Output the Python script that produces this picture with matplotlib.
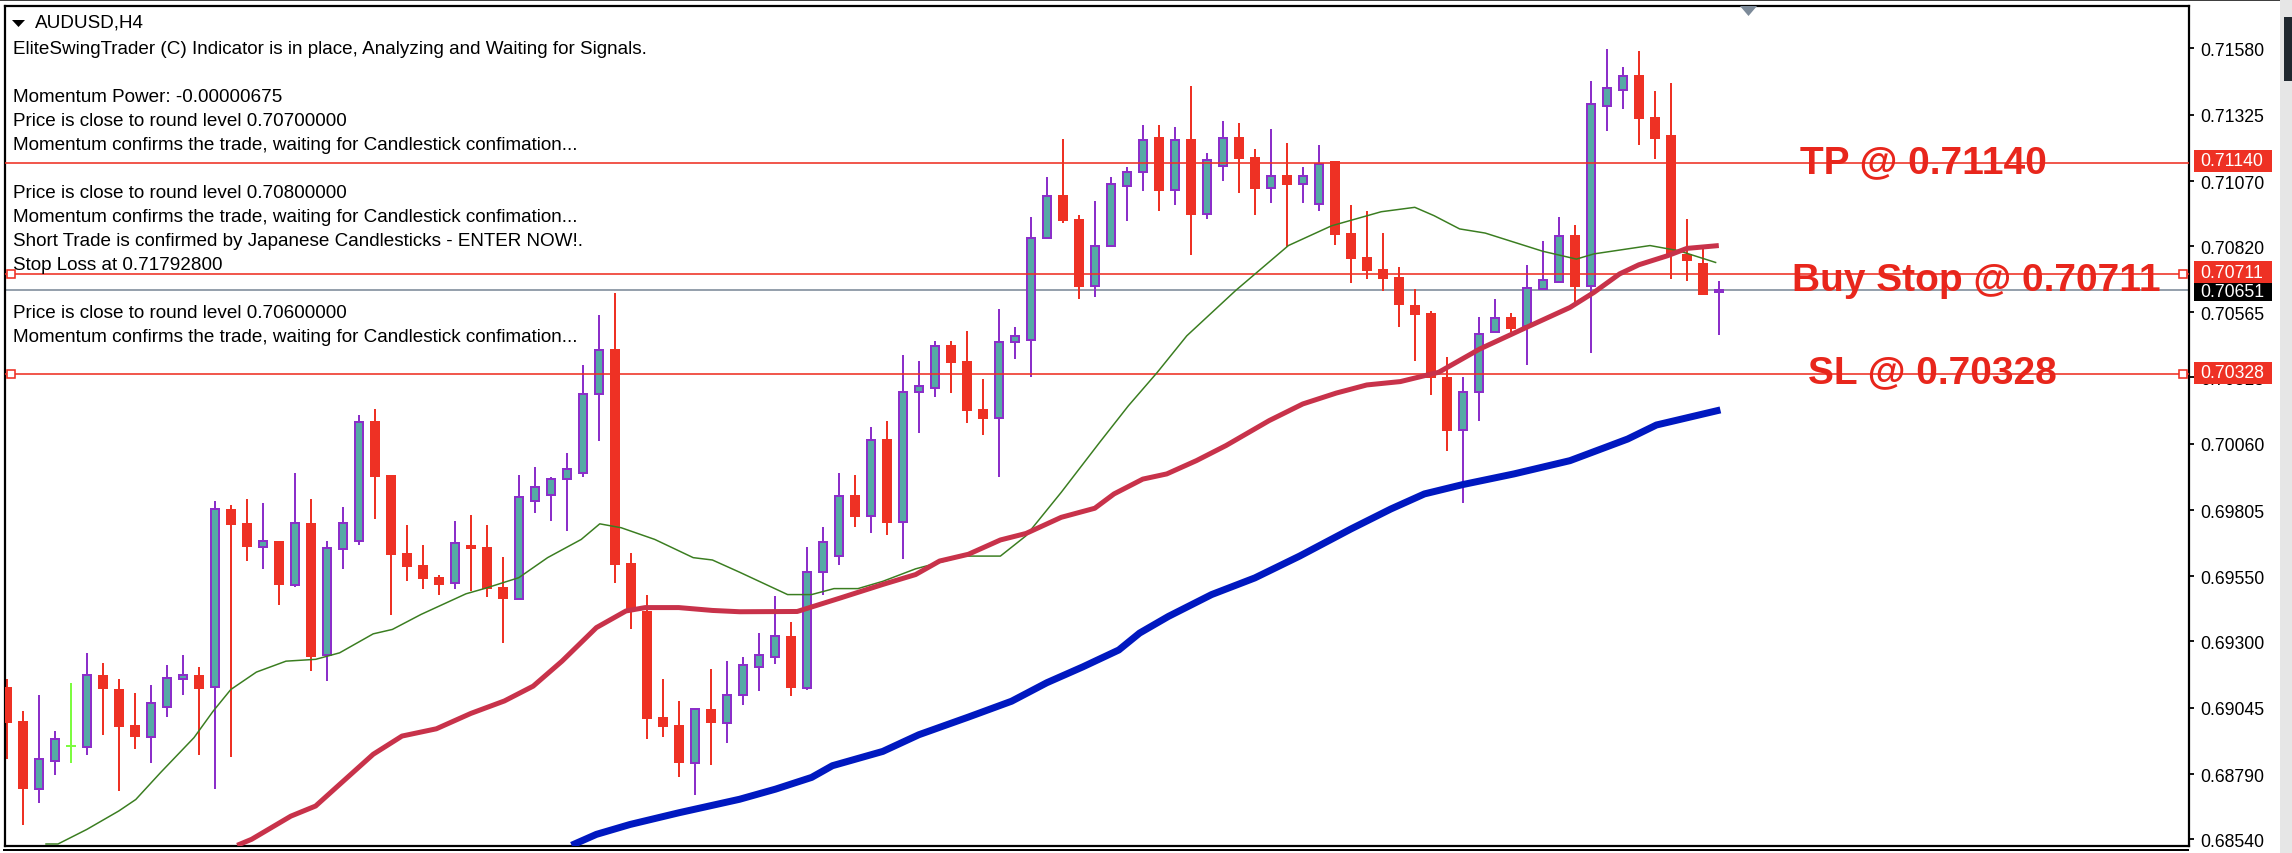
import matplotlib
matplotlib.use("Agg")
import matplotlib.pyplot as plt
from matplotlib.patches import Rectangle, Polygon
from matplotlib.ticker import FixedLocator, FixedFormatter

# ---- data: prices in points (1e-5)
opens = [69124,68994,68733,68841,68898,68895,69171,69117,68978,68933,69049,69155,69171,69126,69809,69755,69664,69686,69518,69755,
         69246,69656,69687,70147,69940,69640,69594,69547,69526,69670,69663,69509,69464,69841,69864,69925,69949,70250,70424,69601,
         69417,69009,68978,68834,69040,68987,69095,69203,69239,69321,69120,69565,69627,69862,69781,70077,69758,70258,70273,70438,
         70377,70192,70158,70450,70458,70850,71015,70923,70665,70819,71050,71104,71238,71034,71230,70942,71127,71238,71161,71042,
         71092,71057,70981,71146,70869,70777,70731,70700,70592,70561,70315,70112,70258,70488,70546,70514,70655,70681,70861,70665,
         71357,71419,71476,71315,71246,70790,70754,70645]
highs = [69155,69032,69094,68955,69140,69255,69217,69155,69101,69132,69209,69247,69201,69840,69824,69847,69832,69686,69947,69847,
         69686,69817,70170,70193,69940,69747,69670,69555,69763,69786,69747,69624,69940,69970,69932,70024,70363,70555,70640,69640,
         69478,69155,69071,69039,69194,69224,69240,69332,69476,69375,69662,69738,69947,69938,70123,70146,70400,70377,70454,70454,
         70492,70308,70577,70508,70931,71084,71230,70938,70992,71084,71123,71284,71284,71277,71435,71177,71300,71292,71192,71269,
         71215,71123,71207,71146,70977,70954,70869,70738,70654,70569,70392,70315,70546,70615,70561,70746,70838,70930,70900,71453,
         71577,71507,71569,71415,71446,70923,70809,70684]
lows = [68848,68594,68678,68786,68832,68863,68940,68725,68886,68832,69009,69094,68863,68732,68855,69609,69578,69440,69509,69186,
        69148,69578,69670,69770,69401,69532,69501,69478,69501,69494,69470,69294,69464,69794,69763,69724,69932,70070,69525,69347,
        68925,68932,68778,68709,68825,68909,69055,69109,69213,69089,69112,69478,69594,69738,69717,69710,69618,70102,70241,70256,
        70141,70095,69933,70386,70318,70850,70910,70618,70625,70819,70918,71033,70956,70979,70787,70925,71071,71025,70941,70987,
        70815,70987,70956,70825,70679,70695,70649,70510,70379,70249,70033,69833,70149,70488,70488,70364,70655,70681,70604,70410,
        71264,71348,71210,71156,70695,70687,70633,70479]
closes = [68986,68732,68846,68923,68898,69169,69117,68971,68932,69062,69160,69171,69117,69808,69747,69663,69685,69517,69754,69240,
          69661,69754,70145,69932,69632,69586,69540,69517,69677,69655,69501,69463,69854,69892,69923,69961,70252,70422,69594,69417,
          69001,68971,68832,69039,68986,69092,69208,69246,69319,69120,69566,69683,69860,69780,70076,69756,70260,70283,70437,70372,
          70187,70156,70452,70475,70852,71014,70918,70664,70822,71060,71106,71229,71033,71229,70941,71152,71237,71156,71041,71091,
          71056,71091,71137,70864,70772,70725,70695,70595,70556,70313,70110,70260,70483,70545,70502,70660,70691,70860,70664,71368,
          71429,71475,71310,71233,70790,70764,70633,70651]

green_bar = [2.45,3.2,5.0,7.0,8.06,9.6,11.7,12.9,14.0,15.6,17.45,19.3,20.8,22.9,24.1,25.9,28.7,29.9,32.0,33.8,35.9,37.06,38.4,40.5,
             42.9,44.1,45.8,48.8,50.3,51.7,53.2,54.75,56.8,59.8,62.1,63.7,65.9,68.3,70.1,71.9,73.75,76.8,80.1,82.8,85.9,88.0,89.2,
             90.8,92.4,96.0,98.1,99.2,102.7,104.5,106.8]
green_val = [68521,68521,68577,68648,68692,68795,68930,69032,69115,69182,69224,69231,69256,69329,69346,69404,69483,69504,69545,69622,69692,69752,69737,69692,
             69622,69613,69566,69480,69480,69503,69503,69531,69579,69628,69628,69706,69873,70065,70206,70334,70475,70649,70822,70898,70952,70969,70937,
             70886,70870,70800,70770,70790,70822,70802,70757]
red_ma_bar = [14.4,15.3,17.75,19.3,20.8,22.9,24.7,26.85,29.0,31.1,32.9,34.7,36.85,38.7,39.9,42,44.1,45.8,49.4,52.1,54.75,56.8,58.3,60.1,62.1,63.7,65.9,68.0,
              69.2,71.0,72.5,74.35,76.2,78.9,81.0,83.1,85,87.1,89.5,92.05,95,97.7,99.2,100.8,102,103.8,105,107]
red_ma_val = [68516,68539,68628,68667,68750,68866,68936,68964,69023,69071,69128,69224,69353,69417,69430,69430,69419,69414,69415,69467,69519,69557,69609,69635,69690,69715,69777,69812,
              69867,69924,69944,69995,70053,70149,70213,70255,70286,70299,70335,70424,70508,70584,70642,70713,70748,70783,70811,70822]
blue_bar = [35.3,36.85,38.95,42,45.8,48.05,50.3,51.6,54.75,57,60.1,62.8,65.0,67.25,69.5,70.8,72.6,75.3,78,80.8,84.0,86.5,88.6,91,94.2,97.7,101.3,103.1,107.1]
blue_val = [68516,68558,68596,68641,68693,68732,68777,68822,68877,68941,69009,69070,69141,69202,69267,69332,69396,69480,69544,69628,69732,69809,69867,69903,69944,69995,70078,70132,70190]

tick_vals = [0.71580,0.71325,0.71070,0.70820,0.70565,0.70315,0.70060,0.69805,0.69550,0.69300,0.69045,0.68790,0.68540]
tp, buy, sl, last = 0.71140, 0.70711, 0.70328, 0.70651

header = "AUDUSD,H4"
info_lines = [("EliteSwingTrader (C) Indicator is in place, Analyzing and Waiting for Signals.", 49),
              ("Momentum Power: -0.00000675", 97),
              ("Price is close to round level 0.70700000", 121),
              ("Momentum confirms the trade, waiting for Candlestick confimation...", 146),
              ("Price is close to round level 0.70800000", 193),
              ("Momentum confirms the trade, waiting for Candlestick confimation...", 218),
              ("Short Trade is confirmed by Japanese Candlesticks - ENTER NOW!.", 242),
              ("Stop Loss at 0.71792800", 266),
              ("Price is close to round level 0.70600000", 313),
              ("Momentum confirms the trade, waiting for Candlestick confimation...", 337)]

# ---- layout
W, H = 2292, 854
RED, TEAL, PURPLE = "#EE3124", "#55AAA5", "#8B2FC9"
plt.rcParams["font.family"] = "Liberation Sans"
fig = plt.figure(figsize=(W/100, H/100), dpi=100, facecolor="white")
L, R, T, B = 5, 2189, 6.7, 846.7
ax = fig.add_axes([L/W, 1-B/H, (R-L)/W, (B-T)/H])
ax.set_xlim((L-6.8)/16, (R-6.8)/16)
ax.set_ylim((71770-3.845*B)/1e5, (71770-3.845*T)/1e5)
ax.set_xticks([])
for s in ax.spines.values():
    s.set_linewidth(1.6); s.set_color("black")
ax.yaxis.tick_right()
ax.yaxis.set_major_locator(FixedLocator(tick_vals))
ax.yaxis.set_major_formatter(FixedFormatter([f"{v:.5f}" for v in tick_vals]))
ax.tick_params(axis="y", length=3.6, width=1.3, pad=4.5, labelsize=12.7, colors="black")

px = 0.72  # points per pixel at dpi 100

# horizontal levels
for v in (tp, buy, sl):
    ax.axhline(v, color=RED, lw=1.6*px, zorder=5)
ax.axhline(last, color="#7C8A99", lw=1.6*px, zorder=1)

# candles
for i, (o, h, l, c) in enumerate(zip(opens, highs, lows, closes)):
    o, h, l, c = o/1e5, h/1e5, l/1e5, c/1e5
    if i == 4:
        ax.vlines(i, l, h, color="#7CFC40", lw=2*px, zorder=2)
        ax.hlines(c, i-0.31, i+0.31, color="#7CFC40", lw=2*px, zorder=2)
    elif c > o:
        ax.vlines(i, l, h, color=PURPLE, lw=2*px, zorder=2)
        ax.bar(i, c-o, bottom=o, width=0.53, color=TEAL if (c-o) > 0.00012 else PURPLE,
               edgecolor=PURPLE, linewidth=2*px, zorder=3)
    else:
        ax.vlines(i, l, h, color=RED, lw=2*px, zorder=2)
        ax.bar(i, o-c, bottom=c, width=0.63, color=RED, edgecolor=RED, linewidth=0, zorder=3)

# moving averages
ax.plot(green_bar, [v/1e5 for v in green_val], color="#3A7D20", lw=1.5*px, zorder=6)
ax.plot(red_ma_bar, [v/1e5 for v in red_ma_val], color="#C8324A", lw=5*px, zorder=6, solid_capstyle="butt")
ax.plot(blue_bar, [v/1e5 for v in blue_val], color="#0018C0", lw=7*px, zorder=6, solid_capstyle="butt")

fig.canvas.draw()
def fy(price):
    return ax.transData.transform((0, price))[1] / H  # figure fraction
def rect(x0, y0, x1, y1, **kw):
    fig.add_artist(Rectangle((x0/W, 1-y1/H), (x1-x0)/W, (y1-y0)/H, transform=fig.transFigure, **kw))

# big labels
for text, x, price_y in [("TP @ 0.71140", 1923, 173), ("Buy Stop @ 0.70711", 1976, 291), ("SL @ 0.70328", 1932, 383)]:
    fig.text(x/W, 1-price_y/H, text, color="#E8261C", fontsize=28, fontweight="bold",
             ha="center", va="baseline", zorder=8)

# price tags
for v, col, tc, h0, h1 in [(tp, RED, "white", 13, 9), (buy, RED, "white", 13, 9), (last, "black", "white", 7, 10.5), (sl, RED, "white", 12, 9.5)]:
    yc = (1-fy(v))*H
    rect(2194, yc-h0, 2272, yc+h1, facecolor=col, edgecolor="none", zorder=9)
    fig.text(2200/W, 1-(yc+(h1-h0)/2)/H, f"{v:.5f}", color=tc, fontsize=12.7, ha="left", va="center", zorder=10)

# handles on pending levels
for v in (buy, sl):
    yc = (1-fy(v))*H
    for x0 in (7, 2179):
        rect(x0, yc-4, x0+8, yc+4, facecolor="white", edgecolor=RED, linewidth=1.6*px, zorder=7)

# text block
fig.text(35/W, 1-23/H, header, fontsize=13.6, color="black", ha="left", va="center", zorder=8)
for line, y in info_lines:
    fig.text(13/W, 1-y/H, line, fontsize=13.6, color="black", ha="left", va="center", zorder=8)

# small triangles
fig.add_artist(Polygon([(12/W, 1-21/H), (25/W, 1-21/H), (18.5/W, 1-28/H)], closed=True, transform=fig.transFigure, facecolor="black", edgecolor="none", zorder=8))
fig.add_artist(Polygon([(1740/W, 1-7/H), (1757/W, 1-7/H), (1748.5/W, 1-17/H)], closed=True, transform=fig.transFigure, facecolor="#7C8A99", edgecolor="none", zorder=8))

# window chrome
rect(0, 0, 2280, 2, facecolor="#404040", edgecolor="none", zorder=9)
rect(3, 850.3, 2189, 852.3, facecolor="black", edgecolor="none", zorder=9)
rect(2280, 0, 2292, 854, facecolor="#E6E6E6", edgecolor="none", zorder=9)
rect(2284, 18, 2292, 82, facecolor="#20282F", edgecolor="none", zorder=10)

fig.savefig("out.png", dpi=100)
